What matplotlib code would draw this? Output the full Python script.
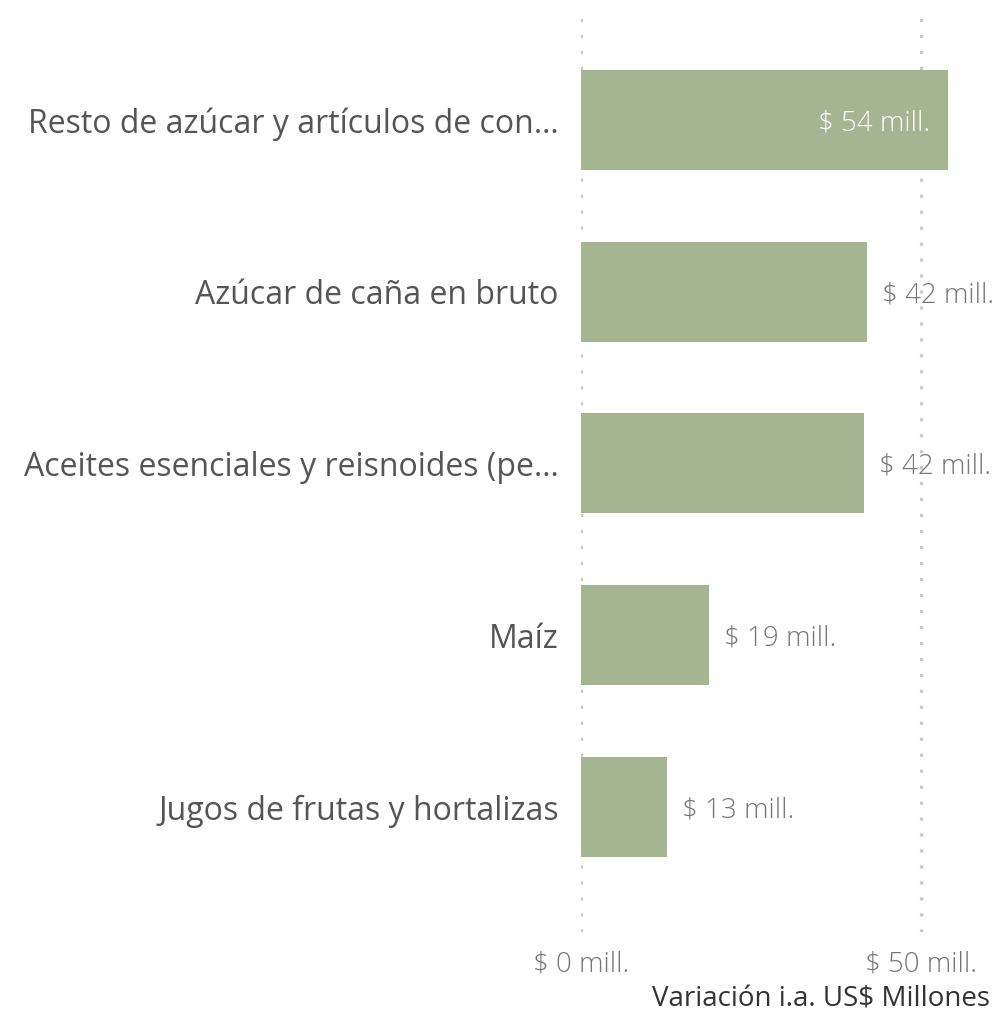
import matplotlib
matplotlib.use("Agg")
import matplotlib.pyplot as plt

categories = ["Resto de azúcar y artículos de con…",
              "Azúcar de caña en bruto",
              "Aceites esenciales y reisnoides (pe…",
              "Maíz",
              "Jugos de frutas y hortalizas"]
values = [54.0, 42.1, 41.6, 18.8, 12.6]
value_labels = ["$ 54 mill.", "$ 42 mill.", "$ 42 mill.", "$ 19 mill.", "$ 13 mill."]
xticks = [0, 50]
xtick_labels = ["$ 0 mill.", "$ 50 mill."]
xlabel = "Variación i.a. US$ Millones"

plt.rcParams['font.family'] = ['Open Sans', 'DejaVu Sans']

W, H = 1003, 1016
fig = plt.figure(figsize=(W/100, H/100), dpi=100)
left_px, right_px, top_px, bot_px = 581, 1003, 8, 932
ax = fig.add_axes([left_px/W, 1 - bot_px/H, (right_px-left_px)/W, (bot_px-top_px)/H])

bar_color = "#a6b591"
pos = list(range(len(categories)))
ax.barh(pos, values, height=0.582, color=bar_color, zorder=2)
ax.set_ylim(4.728, -0.652)
ax.set_xlim(0, (right_px-left_px)/6.8)

for x in xticks:
    ax.axvline(x, color="#c8c8c8", linestyle=(0, (1, 4)), linewidth=2.3, zorder=1)

for p, v, lab in zip(pos, values, value_labels):
    if v > 50:
        ax.text(v - 2.6, p + 0.02, lab, ha="right", va="center", color="white",
                fontsize=20, fontweight="light")
    else:
        ax.text(v + 2.2, p + 0.02, lab, ha="left", va="center", color="#777777",
                fontsize=20, fontweight="light")

ax.set_yticks(pos)
ax.set_yticklabels(categories, fontsize=23, color="#555555")
ax.tick_params(axis="y", length=0, pad=16)
ax.set_xticks(xticks)
ax.set_xticklabels(xtick_labels, fontsize=20, color="#777777", fontweight="light")
ax.tick_params(axis="x", length=0, pad=13)
for s in ax.spines.values():
    s.set_visible(False)

fig.text(990/W, 1 - 1000/H, xlabel, ha="right", va="center", fontsize=20, color="#333333")

fig.savefig("out.png", dpi=100, facecolor="white")
